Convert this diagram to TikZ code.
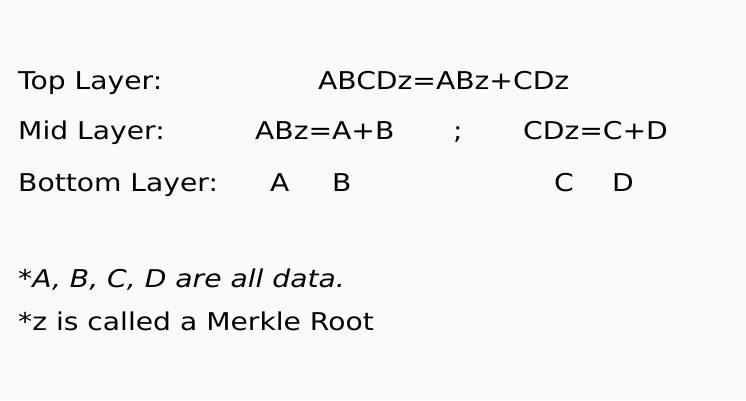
\documentclass[tikz,border=0pt]{standalone}
\usepackage{fontspec}
\setmainfont{DejaVu Sans}[FakeStretch=1.15]
\begin{document}
\begin{tikzpicture}[x=1pt,y=-1pt,t/.style={anchor=base west,inner sep=0pt,font=\fontsize{24.5}{28}\selectfont}]
\useasboundingbox[fill={rgb,255:red,250;green,250;blue,250}] (0,0) rectangle (746,400);
\node[t] (top) at (18,89) {Top Layer:};
\node[t] (topf) at (318,89) {ABCDz=ABz+CDz};
\node[t] (mid) at (18,139) {Mid Layer:};
\node[t] (midl) at (255,139) {ABz=A+B};
\node[t] (semi) at (453,139) {;};
\node[t] (midr) at (523,139) {CDz=C+D};
\node[t] (bot) at (18,191) {Bottom Layer:};
\node[t] (a) at (270,191) {A};
\node[t] (b) at (332,191) {B};
\node[t] (c) at (554,191) {C};
\node[t] (d) at (612,191) {D};
\node[t] (n1) at (18,287) {*\textit{A, B, C, D are all data.}};
\node[t] (n2) at (18,330) {*z is called a Merkle Root};
\end{tikzpicture}
\end{document}
